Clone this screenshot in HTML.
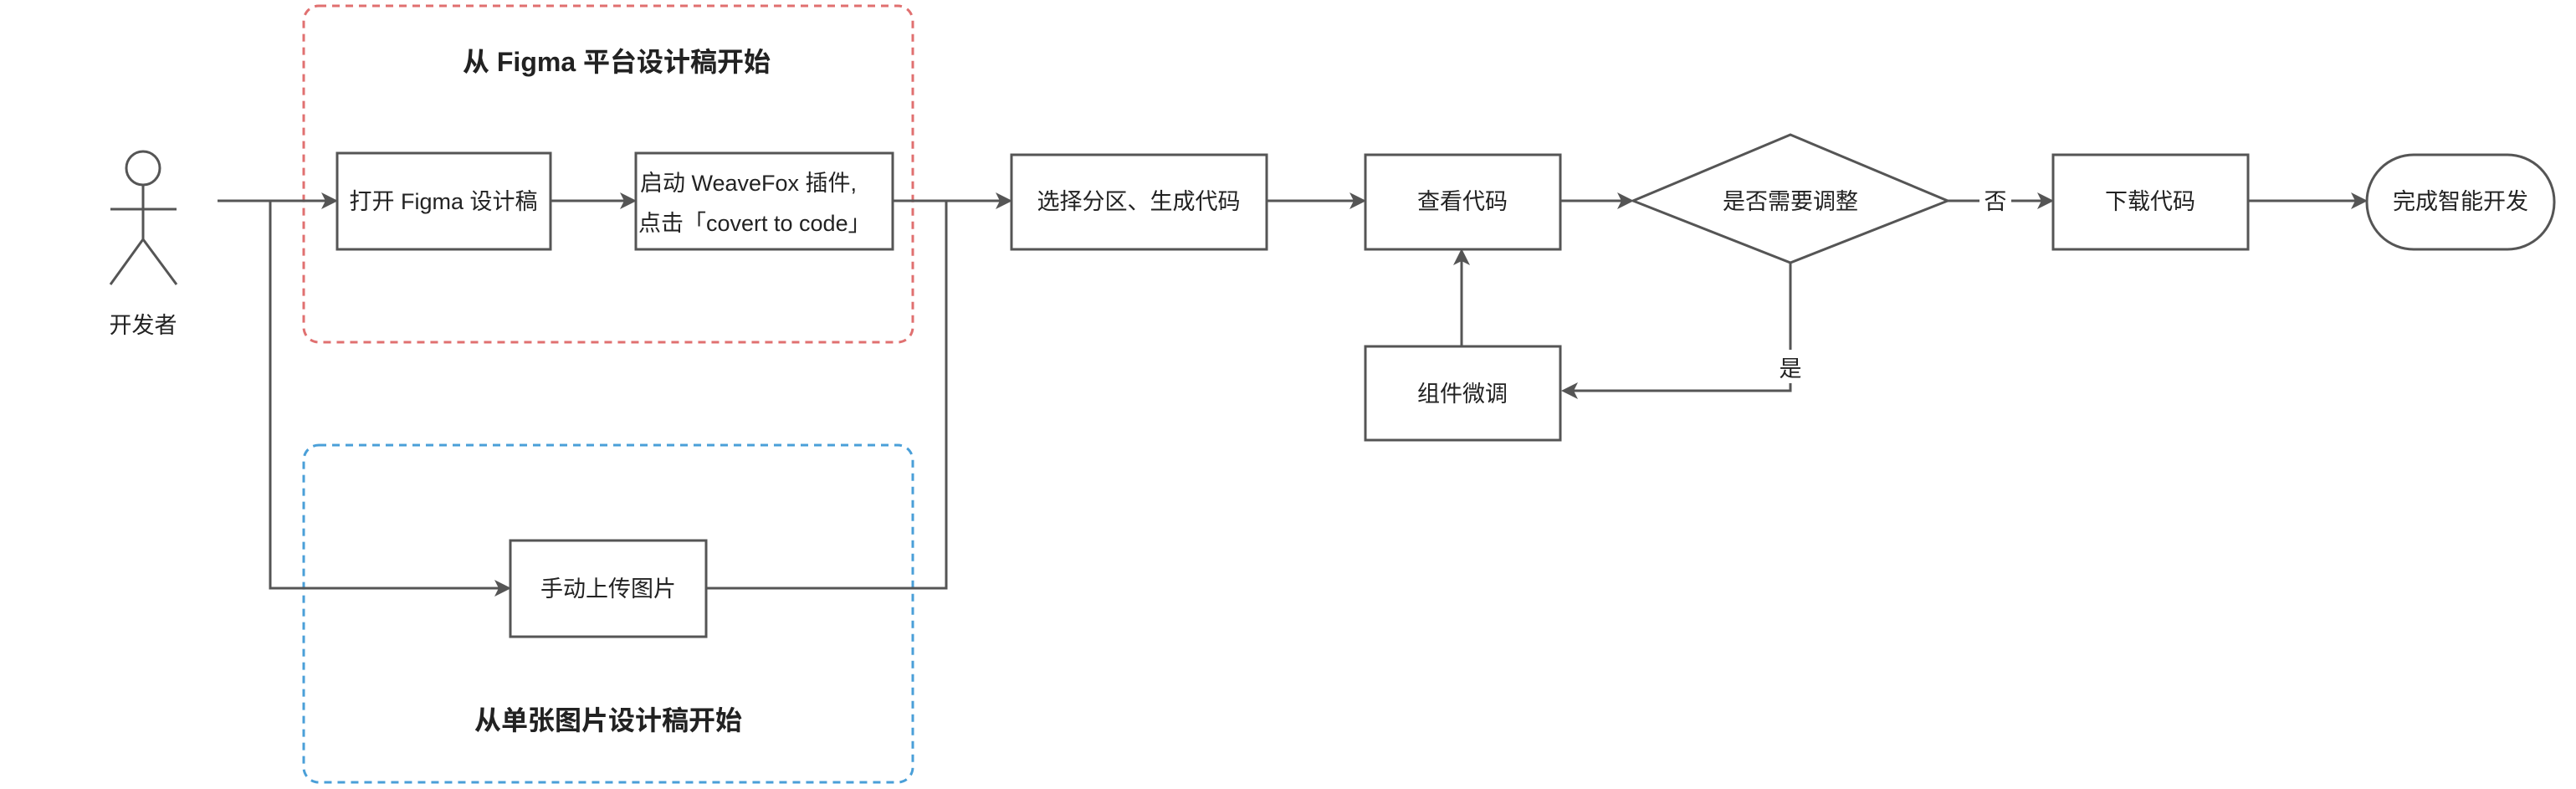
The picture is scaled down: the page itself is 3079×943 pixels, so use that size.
<!DOCTYPE html>
<html><head><meta charset="utf-8"><style>
html,body{margin:0;padding:0;background:#fff;}
svg{display:block;}
text{font-family:"Liberation Sans","Noto Sans CJK SC",sans-serif;fill:#222;}
</style></head><body>
<svg width="3079" height="943" viewBox="0 0 3079 943" xmlns="http://www.w3.org/2000/svg">
<g fill="none" stroke-width="3">
<rect x="363" y="7" width="728" height="402" rx="18" stroke="#e07070" stroke-dasharray="9,7"/>
<rect x="363" y="532" width="728" height="403" rx="18" stroke="#4a9fd8" stroke-dasharray="9,7"/>
</g>
<g fill="#fff" stroke="#555" stroke-width="3">
<circle cx="171" cy="201" r="20"/>
<line x1="171" y1="221" x2="171" y2="286"/>
<line x1="132" y1="250" x2="211" y2="250"/>
<line x1="171" y1="286" x2="132" y2="340"/>
<line x1="171" y1="286" x2="211" y2="340"/>
<rect x="403" y="183" width="255" height="115"/>
<rect x="760" y="183" width="307" height="115"/>
<rect x="610" y="646" width="234" height="115"/>
<rect x="1209" y="185" width="305" height="113"/>
<rect x="1632" y="185" width="233" height="113"/>
<rect x="1632" y="414" width="233" height="112"/>
<polygon points="2140,161 2328,240 2140,314 1952,240"/>
<rect x="2454" y="185" width="233" height="113"/>
<rect x="2829" y="185" width="224" height="113" rx="56"/>
</g>
<g fill="none" stroke="#555" stroke-width="3">
<polyline points="260,240 392,240"/>
<polyline points="323,240 323,703 598,703"/>
<polyline points="658,240 749,240"/>
<polyline points="1067,240 1198,240"/>
<polyline points="844,703 1131,703 1131,240"/>
<polyline points="1514,240 1620,240"/>
<polyline points="1865,240 1940,240"/>
<polyline points="2328,240 2366,240"/>
<polyline points="2404,240 2442,240"/>
<polyline points="2687,240 2817,240"/>
<polyline points="1747,414 1747,310"/>
<polyline points="2140,314 2140,418"/>
<polyline points="2140,458 2140,467 1877,467"/>
</g>
<g fill="#555">
<polygon points="404,240 384,230 389,240 384,250"/>
<polygon points="611,703 591,693 596,703 591,713"/>
<polygon points="761,240 741,230 746,240 741,250"/>
<polygon points="1210,240 1190,230 1195,240 1190,250"/>
<polygon points="1633,240 1613,230 1618,240 1613,250"/>
<polygon points="1953,240 1933,230 1938,240 1933,250"/>
<polygon points="2455,240 2435,230 2440,240 2435,250"/>
<polygon points="2830,240 2810,230 2815,240 2810,250"/>
<polygon points="1747,297 1737,317 1747,312 1757,317"/>
<polygon points="1866,467 1886,457 1881,467 1886,477"/>
</g>
<g font-size="27" text-anchor="middle">
<text x="171" y="398">开发者</text>
<text x="530" y="250">打开 Figma 设计稿</text>
<text x="765" y="228" text-anchor="start">启动 WeaveFox 插件,</text>
<text x="763" y="276" text-anchor="start">点击「covert to code」</text>
<text x="727" y="713">手动上传图片</text>
<text x="1361" y="250">选择分区、生成代码</text>
<text x="1748" y="250">查看代码</text>
<text x="2140" y="250">是否需要调整</text>
<text x="2385" y="250">否</text>
<text x="2140" y="450">是</text>
<text x="1748" y="480">组件微调</text>
<text x="2570" y="250">下载代码</text>
<text x="2941" y="250">完成智能开发</text>
<text x="737" y="85" font-size="32" font-weight="bold">从 Figma 平台设计稿开始</text>
<text x="727" y="872" font-size="32" font-weight="bold">从单张图片设计稿开始</text>
</g>
</svg>
</body></html>
